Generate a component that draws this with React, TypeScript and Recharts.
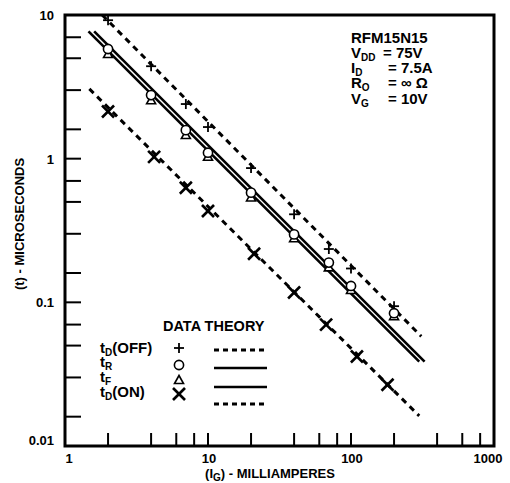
import React from 'react'
import { ComposedChart, Line, Scatter, XAxis, YAxis, ReferenceArea } from 'recharts'

// measured points (gate current in mA, time in microseconds)
const tdOffI = [2, 4, 7, 10, 20, 40, 70, 100, 200]
const tdOffT = [9.2, 4.4, 2.4, 1.66, 0.86, 0.41, 0.235, 0.172, 0.094]
const trI = [2, 4, 7, 10, 20, 40, 70, 100, 200]
const trT = [5.8, 2.77, 1.58, 1.1, 0.58, 0.297, 0.189, 0.13, 0.084]
const tfI = [2, 4, 7, 10, 20, 40, 70, 100, 200]
const tfT = [5.35, 2.55, 1.46, 1.03, 0.537, 0.279, 0.175, 0.122, 0.08]
const tdOnI = [2, 4.2, 7, 10, 21, 40, 67, 110, 180]
const tdOnT = [2.13, 1.03, 0.627, 0.432, 0.218, 0.117, 0.07, 0.042, 0.0267]

// theory lines (end points)
const tdOffTheoryI = [1.82, 310]
const tdOffTheoryT = [10, 0.058]
const trTheoryI = [1.6, 327]
const trTheoryT = [7.69, 0.0387]
const tfTheoryI = [1.46, 300]
const tfTheoryT = [7.69, 0.0387]
const tdOnTheoryI = [1.48, 300]
const tdOnTheoryT = [3.06, 0.0162]

const xDecades = [1, 10, 100, 1000]
const xMinor = [2, 4, 6, 8]
const yDecades = [0.01, 0.1, 1, 10]
const yMinor = [1.6, 3, 5, 7]

const FONT = '"Liberation Sans", Arial, Helvetica, sans-serif'

const pts = (xs: number[], ts: number[]) => xs.map((x, i) => ({ x, t: ts[i] }))

const xTicks = [...xDecades, ...xDecades.slice(0, 3).flatMap((d) => xMinor.map((m) => m * d))].sort((a, b) => a - b)
const yTicks = [...yDecades, ...yDecades.slice(0, 3).flatMap((d) => yMinor.map((m) => m * d))].sort((a, b) => a - b)

const XTick = (props: any) => {
    const { x, y, payload } = props
    const v = payload.value
    const major = xDecades.includes(v)
    const shift = v === 1 ? 4 : v === 1000 ? -6 : 1
    return (
        <g>
            <line x1={x} y1={y} x2={x} y2={y - 13} stroke="#000" strokeWidth={2} />
            {major && (
                <text x={x + shift} y={y + 17} textAnchor="middle" fontFamily={FONT} fontWeight="bold" fontSize={13} fill="#000">
                    {v}
                </text>
            )}
        </g>
    )
}

const YTick = (props: any) => {
    const { x, y, payload } = props
    const v = payload.value
    const major = yDecades.includes(v)
    const dy = v === 0.01 ? -1 : 5
    return (
        <g>
            <line x1={x} y1={y} x2={x + 16} y2={y} stroke="#000" strokeWidth={2} />
            {major && (
                <text x={x - 11} y={y + dy} textAnchor="end" fontFamily={FONT} fontWeight="bold" fontSize={13} fill="#000">
                    {v}
                </text>
            )}
        </g>
    )
}

const Plus = ({ cx, cy }: any) => (
    <g stroke="#000" strokeWidth={1.8}>
        <line x1={cx - 5} y1={cy} x2={cx + 5} y2={cy} />
        <line x1={cx} y1={cy - 5} x2={cx} y2={cy + 5} />
    </g>
)
const Circle = ({ cx, cy }: any) => <circle cx={cx} cy={cy} r={4.6} fill="#fff" stroke="#000" strokeWidth={1.6} />
const Tri = ({ cx, cy }: any) => (
    <path d={`M${cx},${cy - 4.5} L${cx + 4.5},${cy + 3.5} L${cx - 4.5},${cy + 3.5} Z`} fill="#fff" stroke="#000" strokeWidth={1.6} />
)
const Cross = ({ cx, cy }: any) => (
    <g stroke="#000" strokeWidth={2.6}>
        <line x1={cx - 6} y1={cy - 6} x2={cx + 6} y2={cy + 6} />
        <line x1={cx - 6} y1={cy + 6} x2={cx + 6} y2={cy - 6} />
    </g>
)

export default function App() {
    const txt = { fontFamily: FONT, fontWeight: 'bold' as const, fill: '#000' }
    return (
        <div style={{ position: 'absolute', left: 0, top: 0, width: 510, height: 483, background: '#fff' }}>
            <ComposedChart width={510} height={483} margin={{ top: 15, right: 16, bottom: 7, left: 0 }}>
                <XAxis
                    dataKey="x"
                    type="number"
                    scale="log"
                    domain={[1, 1000]}
                    ticks={xTicks}
                    interval={0}
                    allowDataOverflow
                    axisLine={false}
                    tickLine={false}
                    tickSize={0}
                    tickMargin={0}
                    height={30}
                    tick={<XTick />}
                />
                <YAxis
                    dataKey="t"
                    type="number"
                    scale="log"
                    domain={[0.01, 10]}
                    ticks={yTicks}
                    interval={0}
                    allowDataOverflow
                    axisLine={false}
                    tickLine={false}
                    tickSize={0}
                    tickMargin={0}
                    width={65}
                    tick={<YTick />}
                />
                <ReferenceArea x1={1} x2={1000} y1={0.01} y2={10} fill="none" stroke="#000" strokeWidth={3} />
                <Line data={pts(tdOffTheoryI, tdOffTheoryT)} dataKey="t" stroke="#000" strokeWidth={3} strokeDasharray="6 5" dot={false} isAnimationActive={false} />
                <Line data={pts(trTheoryI, trTheoryT)} dataKey="t" stroke="#000" strokeWidth={2.6} dot={false} isAnimationActive={false} />
                <Line data={pts(tfTheoryI, tfTheoryT)} dataKey="t" stroke="#000" strokeWidth={2.6} dot={false} isAnimationActive={false} />
                <Line data={pts(tdOnTheoryI, tdOnTheoryT)} dataKey="t" stroke="#000" strokeWidth={3} strokeDasharray="6 5" dot={false} isAnimationActive={false} />
                <Scatter data={pts(tdOffI, tdOffT)} shape={Plus} isAnimationActive={false} />
                <Scatter data={pts(tfI, tfT)} shape={Tri} isAnimationActive={false} />
                <Scatter data={pts(trI, trT)} shape={Circle} isAnimationActive={false} />
                <Scatter data={pts(tdOnI, tdOnT)} shape={Cross} isAnimationActive={false} />
            </ComposedChart>
            <svg width={510} height={483} style={{ position: 'absolute', left: 0, top: 0, pointerEvents: 'none' }}>
                {/* axis titles */}
                <text x={270} y={478} textAnchor="middle" fontSize={13} {...txt}>
                    <tspan>(I</tspan>
                    <tspan fontSize={10} dy={3}>G</tspan>
                    <tspan dy={-3}>) - MILLIAMPERES</tspan>
                </text>
                <text x={0} y={0} transform="translate(24,224) rotate(-90)" textAnchor="middle" fontSize={13} {...txt}>
                    (t) - MICROSECONDS
                </text>

                {/* device conditions */}
                <text x={351} y={43} fontSize={15} {...txt}>RFM15N15</text>
                <text x={351} y={58} fontSize={15} {...txt}>V<tspan fontSize={10} dy={3}>DD</tspan></text>
                <text x={383} y={58} fontSize={15} {...txt}>= 75V</text>
                <text x={351} y={73} fontSize={15} {...txt}>I<tspan fontSize={10} dy={3}>D</tspan></text>
                <text x={388} y={73} fontSize={15} {...txt}>= 7.5A</text>
                <text x={351} y={88} fontSize={15} {...txt}>R<tspan fontSize={10} dy={3}>O</tspan></text>
                <text x={388} y={88} fontSize={15} {...txt}>= ∞ Ω</text>
                <text x={351} y={104} fontSize={15} {...txt}>V<tspan fontSize={10} dy={3}>G</tspan></text>
                <text x={388} y={104} fontSize={15} {...txt}>= 10V</text>

                {/* legend */}
                <text x={163} y={331} fontSize={14.5} {...txt}>DATA THEORY</text>
                <text x={100} y={353} fontSize={15} {...txt}>t<tspan fontSize={10} dy={3}>D</tspan><tspan dy={-3}>(OFF)</tspan></text>
                <text x={100} y={367} fontSize={15} {...txt}>t<tspan fontSize={10} dy={3}>R</tspan></text>
                <text x={100} y={382} fontSize={15} {...txt}>t<tspan fontSize={10} dy={3}>F</tspan></text>
                <text x={100} y={397} fontSize={15} {...txt}>t<tspan fontSize={10} dy={3}>D</tspan><tspan dy={-3}>(ON)</tspan></text>
                <Plus cx={179} cy={348} />
                <Circle cx={179} cy={365} />
                <Tri cx={179} cy={380} />
                <Cross cx={179} cy={394} />
                <line x1={214} y1={350} x2={267} y2={350} stroke="#000" strokeWidth={3} strokeDasharray="5 4" />
                <line x1={214} y1={368} x2={267} y2={368} stroke="#000" strokeWidth={2.6} />
                <line x1={214} y1={387} x2={267} y2={387} stroke="#000" strokeWidth={2.6} />
                <line x1={214} y1={404} x2={267} y2={404} stroke="#000" strokeWidth={3} strokeDasharray="5 4" />
            </svg>
        </div>
    )
}
